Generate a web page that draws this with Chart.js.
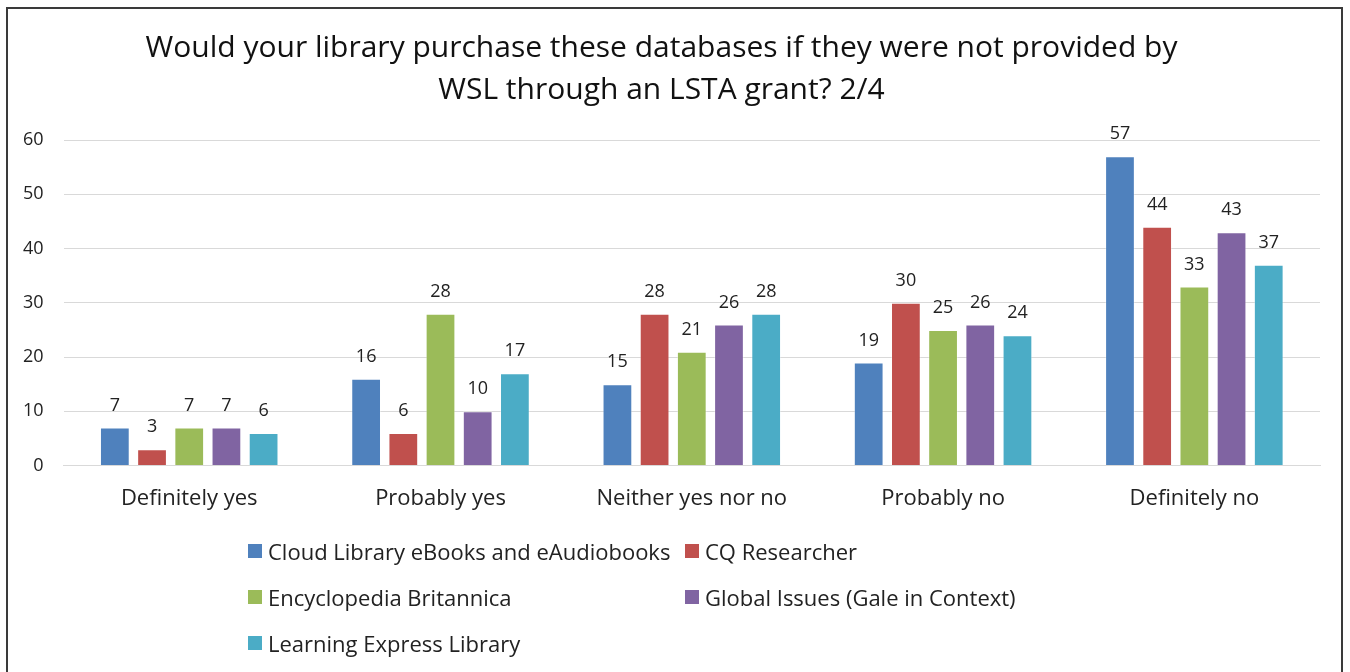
<!DOCTYPE html>
<html>
<head>
<meta charset="utf-8">
<script src="https://cdn.jsdelivr.net/npm/chart.js@4.4.0/dist/chart.umd.min.js"></script>
<style>
  html, body { margin: 0; padding: 0; background: #fff; }
  #wrap { position: relative; width: 1350px; height: 672px; overflow: hidden; }
  #frame { position: absolute; left: 6px; top: 7px; width: 1337px; height: 700px; border: 2px solid #3a3a3a; box-sizing: border-box; }
  #progressChart { position: absolute; left: 0; top: 0; }
  #legend { position: absolute; left: 248px; top: 537px; display: grid; grid-template-columns: 437px auto; row-gap: 18px;
    font-family: "Open Sans", sans-serif; font-size: 22px; color: #222; }
  .item { display: flex; align-items: center; height: 28px; white-space: nowrap; }
  .box { width: 14px; height: 14px; margin-right: 6px; }
</style>
</head>
<body>
<div id="wrap">
  <div id="frame"></div>
  <canvas id="progressChart" width="1350" height="672"></canvas>
  <div id="legend"></div>
</div>
<script>
// Answer categories on the x axis
const categories = ['Definitely yes', 'Probably yes', 'Neither yes nor no', 'Probably no', 'Definitely no'];

// One array per database
const cloudLibrary = [7, 16, 15, 19, 57];
const cqResearcher = [3, 6, 28, 30, 44];
const britannica = [7, 28, 21, 25, 33];
const globalIssues = [7, 10, 26, 26, 43];
const learningExpress = [6, 17, 28, 24, 37];

const seriesNames = ['Cloud Library eBooks and eAudiobooks', 'CQ Researcher', 'Encyclopedia Britannica',
  'Global Issues (Gale in Context)', 'Learning Express Library'];
const seriesColors = ['#4F81BD', '#C0504D', '#9BBB59', '#8064A2', '#4BACC6'];

const yTicks = [0, 10, 20, 30, 40, 50, 60];

const FONT = '"Open Sans", sans-serif';

// Draw the number above each bar
const valueLabels = {
  id: 'valueLabels',
  afterDatasetsDraw(chart) {
    const ctx = chart.ctx;
    ctx.save();
    ctx.font = '18px ' + FONT;
    ctx.fillStyle = '#222';
    ctx.textAlign = 'center';
    ctx.textBaseline = 'bottom';
    chart.data.datasets.forEach((ds, i) => {
      chart.getDatasetMeta(i).data.forEach((bar, j) => {
        ctx.fillText(ds.data[j], bar.x, bar.y - 13);
      });
    });
    ctx.restore();
  }
};

document.addEventListener('DOMContentLoaded', function () {
  const ctx = document.getElementById('progressChart');
  const allSeries = [cloudLibrary, cqResearcher, britannica, globalIssues, learningExpress];

  const chart = new Chart(ctx.getContext('2d'), {
    type: 'bar',
    data: {
      labels: categories,
      datasets: allSeries.map((vals, i) => ({
        label: seriesNames[i],
        data: vals,
        backgroundColor: seriesColors[i],
        borderColor: 'rgba(255,255,255,0.35)',
        borderWidth: 1,
        barPercentage: 0.8,
        categoryPercentage: 0.74
      }))
    },
    options: {
      responsive: false,
      animation: false,
      layout: { padding: { left: 3, right: 30, top: 4, bottom: 140 } },
      plugins: {
        legend: { display: false },
        tooltip: { enabled: false },
        title: {
          display: true,
          text: ['Would your library purchase these databases if they were not provided by',
                 'WSL through an LSTA grant? 2/4'],
          color: '#111',
          font: { family: FONT, size: 30, weight: 'normal', lineHeight: 1.4 },
          padding: { top: 23, bottom: 29 }
        }
      },
      scales: {
        x: {
          grid: { display: false, drawTicks: false },
          border: { color: '#d9d9d9', width: 1 },
          ticks: { color: '#222', font: { family: FONT, size: 22 }, padding: 20 }
        },
        y: {
          min: 0,
          max: 60,
          afterBuildTicks(scale) { scale.ticks = yTicks.map(v => ({ value: v })); },
          grid: { color: '#d9d9d9', lineWidth: 1, drawTicks: false },
          border: { display: false },
          ticks: { color: '#222', font: { family: FONT, size: 18 }, padding: 20 }
        }
      }
    },
    plugins: [valueLabels]
  });

  // HTML legend laid out in two columns like the original
  const legend = document.getElementById('legend');
  chart.data.datasets.forEach(ds => {
    const item = document.createElement('div');
    item.className = 'item';
    const box = document.createElement('span');
    box.className = 'box';
    box.style.background = ds.backgroundColor;
    item.appendChild(box);
    item.appendChild(document.createTextNode(ds.label));
    legend.appendChild(item);
  });
});
</script>
</body>
</html>
